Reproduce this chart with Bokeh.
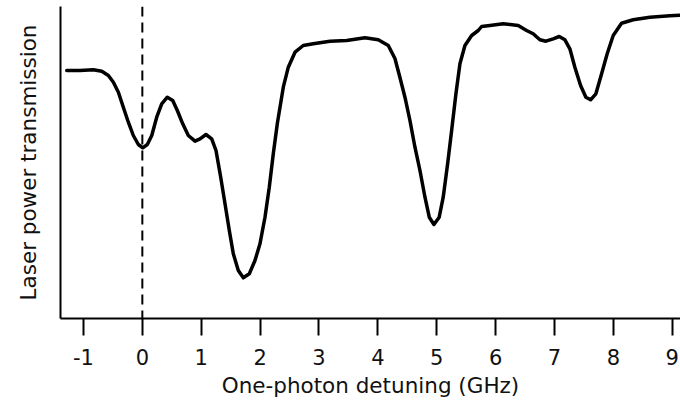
from bokeh.plotting import figure
from bokeh.models import Range1d, FixedTicker, Span
from bokeh.embed import file_html
from bokeh.resources import INLINE

# One-photon detuning (GHz)
detuning = [-1.284, -1.058, -0.832, -0.689, -0.577, -0.492, -0.407, -0.323, -0.238, -0.153,
            -0.068, 0.007, 0.085, 0.160, 0.244, 0.329, 0.424, 0.516, 0.594, 0.686,
            0.781, 0.895, 0.980, 1.081, 1.178, 1.251, 1.331, 1.404, 1.477, 1.545,
            1.630, 1.715, 1.817, 1.913, 1.998, 2.083, 2.156, 2.224, 2.292, 2.394,
            2.479, 2.593, 2.733, 2.903, 3.187, 3.470, 3.781, 4.007, 4.177, 4.290,
            4.375, 4.460, 4.545, 4.630, 4.715, 4.800, 4.873, 4.952, 5.042, 5.110,
            5.185, 5.253, 5.326, 5.394, 5.479, 5.593, 5.705, 5.762, 5.903, 6.129,
            6.384, 6.526, 6.638, 6.752, 6.854, 6.978, 7.080, 7.177, 7.261, 7.346,
            7.443, 7.533, 7.613, 7.703, 7.800, 7.895, 7.997, 8.139, 8.336, 8.620,
            8.959, 9.129]
# Laser power transmission (arbitrary units)
transmission = [248, 248, 248.7, 247.3, 243, 236.3, 226.3, 211.3, 196.3, 183,
                174, 170.7, 174, 183, 201.3, 214.7, 221.3, 218, 208, 194.7,
                183, 177.3, 179.7, 184, 179.7, 168, 141.3, 114.7, 88, 64.7,
                48, 40.7, 44.7, 58, 74.7, 101.3, 131.3, 164.7, 194.7, 231.3,
                251.3, 266.3, 273, 274.7, 277.3, 278, 280.7, 278.7, 273, 260,
                241, 221.3, 198, 171.3, 148, 121.3, 101.3, 94, 101.3, 121.3,
                154.7, 188, 224.7, 254.7, 273, 283, 288, 292, 293, 294.7,
                293, 288, 284.7, 278.7, 277.3, 279.7, 282, 278.7, 269.7, 251.3,
                233, 221.3, 218.7, 224.7, 244.7, 264.7, 283, 295.3, 298.7, 301.3,
                302.7, 303.3]
x_ticks = [-1, 0, 1, 2, 3, 4, 5, 6, 7, 8, 9]
tick_labels = {t: str(t) for t in x_ticks}  # plain hyphen for "-1"
dash_x = 0

FONT = "DejaVu Sans"
TXT = "#111111"

p = figure(width=680, height=407, output_backend="svg", toolbar_location=None,
           x_range=Range1d(-1.39, 9.14), y_range=Range1d(0, 312),
           min_border_left=60, min_border_right=0, min_border_top=6, min_border_bottom=89)
p.outline_line_color = None
p.grid.visible = False
p.background_fill_color = "white"
p.border_fill_color = "white"

p.line(detuning, transmission, line_color="black", line_width=3.5,
       line_join="round", line_cap="round")
p.add_layout(Span(location=dash_x, dimension="height", line_color="black",
                  line_width=2, line_dash="10 6"))

xa = p.xaxis[0]
xa.ticker = FixedTicker(ticks=x_ticks)
xa.major_label_overrides = tick_labels
xa.minor_tick_line_color = None
xa.major_tick_in = 0
xa.major_tick_out = 17
xa.major_tick_line_width = 2
xa.axis_line_width = 2
xa.axis_line_color = "black"
xa.major_tick_line_color = "black"
xa.axis_label = "One-photon detuning (GHz)"
xa.axis_label_text_font = FONT
xa.axis_label_text_font_style = "normal"
xa.axis_label_text_font_size = "21.5px"
xa.axis_label_text_color = TXT
xa.axis_label_standoff = 5
xa.major_label_text_font = FONT
xa.major_label_text_font_size = "21px"
xa.major_label_text_color = TXT
xa.major_label_standoff = 13

ya = p.yaxis[0]
ya.ticker = FixedTicker(ticks=[])
ya.minor_tick_line_color = None
ya.major_tick_line_color = None
ya.major_label_text_font_size = "0px"
ya.axis_line_width = 2
ya.axis_line_color = "black"
ya.axis_label = "Laser power transmission"
ya.axis_label_text_font = FONT
ya.axis_label_text_font_style = "normal"
ya.axis_label_text_font_size = "21.5px"
ya.axis_label_text_color = TXT
ya.axis_label_standoff = 20

open("out.html", "w").write(file_html(p, INLINE))
